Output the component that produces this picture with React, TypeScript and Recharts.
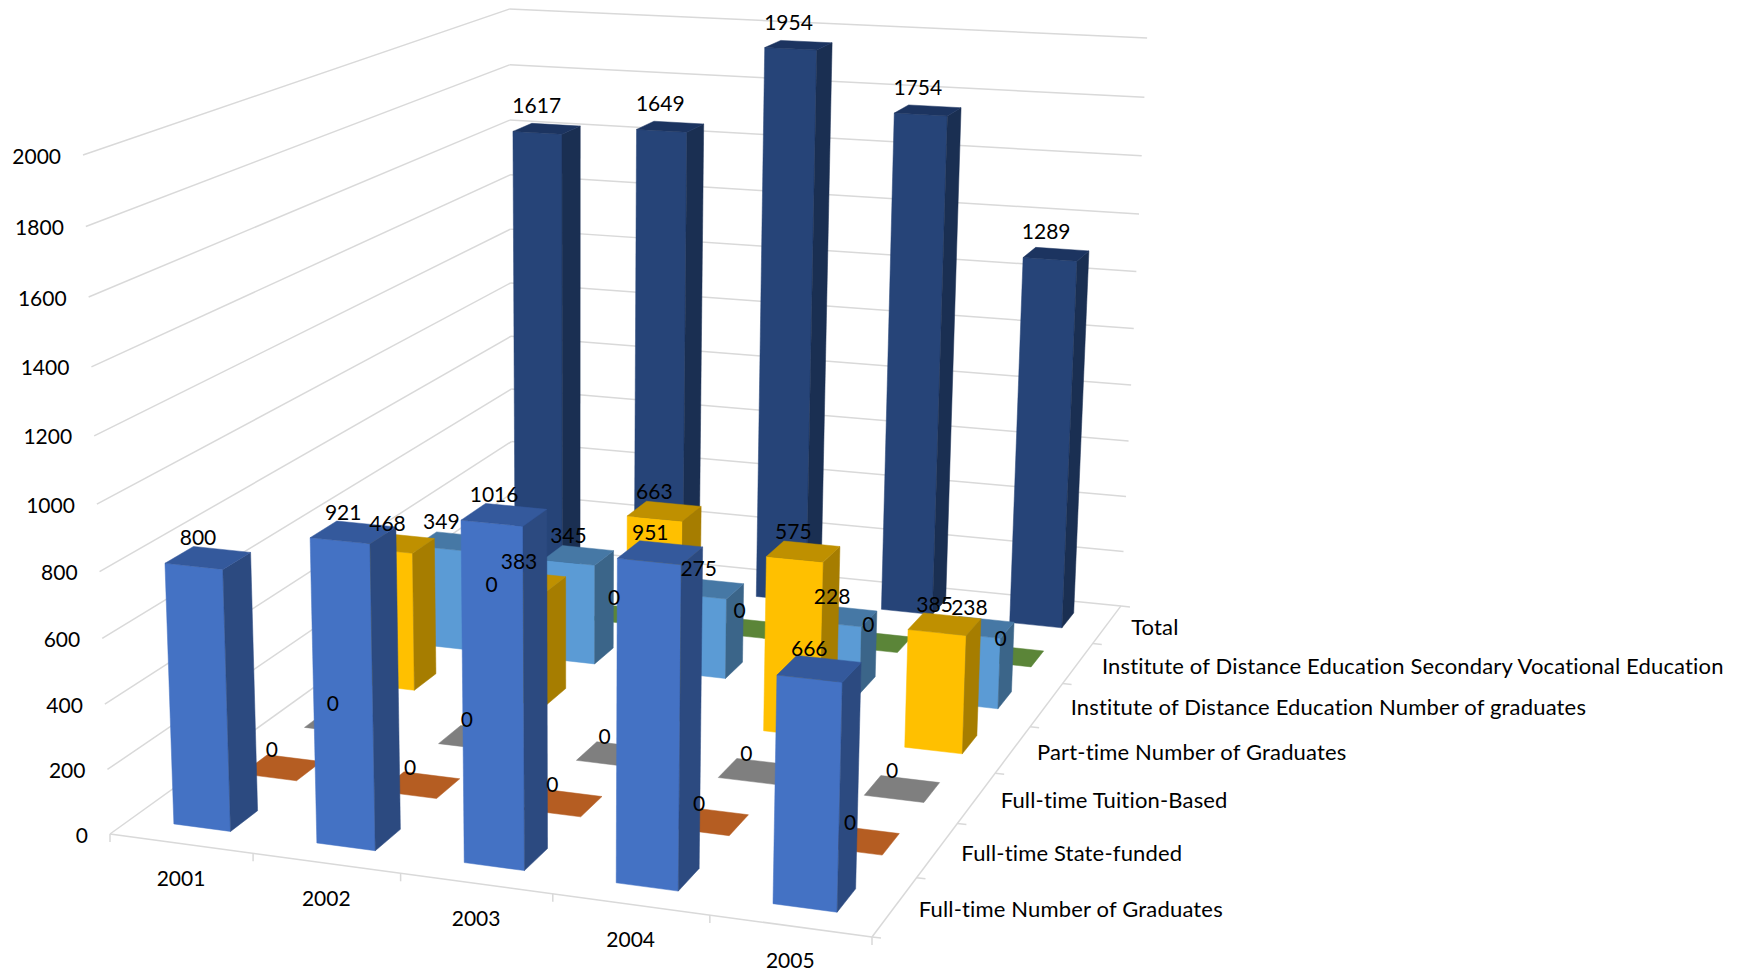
import React from 'react';
import { ScatterChart, Scatter, XAxis, YAxis, ReferenceLine } from 'recharts';

const years = ['2001', '2002', '2003', '2004', '2005'];
const seriesNames = [
    'Full-time Number of Graduates',
    'Full-time State-funded',
    'Full-time Tuition-Based',
    'Part-time Number of Graduates',
    'Institute of Distance Education Number of graduates',
    'Institute of Distance Education Secondary Vocational Education',
    'Total',
];
const fullTimeGraduates = [800, 921, 1016, 951, 666];
const fullTimeStateFunded = [0, 0, 0, 0, 0];
const fullTimeTuition = [0, 0, 0, 0, 0];
const partTimeGraduates = [468, 383, 663, 575, 385];
const distanceGraduates = [349, 345, 275, 228, 238];
const distanceVocational = [0, 0, 0, 0, 0];
const total = [1617, 1649, 1954, 1754, 1289];
const seriesValues = [
    fullTimeGraduates,
    fullTimeStateFunded,
    fullTimeTuition,
    partTimeGraduates,
    distanceGraduates,
    distanceVocational,
    total,
];
const valueTicks = [0, 200, 400, 600, 800, 1000, 1200, 1400, 1600, 1800, 2000];

// front, side, top
const palette = [
    ['#4472C4', '#2C4A80', '#34599C'],
    ['#B55D22', '#B55D22', '#B55D22'],
    ['#7F7F7F', '#7F7F7F', '#7F7F7F'],
    ['#FFC000', '#A67D00', '#BF9000'],
    ['#5B9BD5', '#3B6589', '#4678A5'],
    ['#5B8538', '#5B8538', '#5B8538'],
    ['#264478', '#1A2F52', '#1C3460'],
];

const WIDTH = 1738;
const HEIGHT = 977;
const MAX_VALUE = 2000;
const GRID = '#D9D9D9';
const FONT = 'Lato, "Open Sans", sans-serif';
const BAR_START = 0.3;
const BAR_END = 0.7;

// corners of the box on the page and their perspective weights
const O = [110, 834];
const A = [872, 937];
const B = [512, 545];
const C = [83, 155];
const wa = 0.9248;
const wb = 1.282;
const wc = 0.945;

// u = position along the years, v = position along the series, h = value
const project = (u: number, v: number, h: number): [number, number] => {
    const a = u / years.length;
    const b = v / seriesNames.length;
    const c = h / MAX_VALUE;
    const w = 1 + a * (wa - 1) + b * (wb - 1) + c * (wc - 1);
    const x = O[0] + a * (wa * A[0] - O[0]) + b * (wb * B[0] - O[0]) + c * (wc * C[0] - O[0]);
    const y = O[1] + a * (wa * A[1] - O[1]) + b * (wb * B[1] - O[1]) + c * (wc * C[1] - O[1]);
    return [x / w, y / w];
};

const toPoints = (corners: number[][]) =>
    corners.map(([u, v, h]) => project(u, v, h).join(',')).join(' ');

const Cuboid = (props: any) => {
    const { yearIndex, seriesIndex, value } = props.payload;
    const [front, side, top] = palette[seriesIndex];
    const u0 = yearIndex + BAR_START;
    const u1 = yearIndex + BAR_END;
    const v0 = seriesIndex + BAR_START;
    const v1 = seriesIndex + BAR_END;
    return (
        <g>
            {value > 0 && (
                <polygon
                    points={toPoints([[u0, v0, 0], [u1, v0, 0], [u1, v0, value], [u0, v0, value]])}
                    fill={front}
                    stroke={front}
                    strokeWidth={0.5}
                />
            )}
            {value > 0 && (
                <polygon
                    points={toPoints([[u1, v0, 0], [u1, v1, 0], [u1, v1, value], [u1, v0, value]])}
                    fill={side}
                    stroke={side}
                    strokeWidth={0.5}
                />
            )}
            <polygon
                points={toPoints([[u0, v0, value], [u1, v0, value], [u1, v1, value], [u0, v1, value]])}
                fill={top}
                stroke={top}
                strokeWidth={0.5}
            />
        </g>
    );
};

const TextMark = (props: any) => {
    const { cx, cy, payload } = props;
    return (
        <text
            x={cx}
            y={cy}
            textAnchor={payload.anchor}
            dominantBaseline="central"
            fontFamily={FONT}
            fontSize={21}
            fill="#000"
        >
            {payload.text}
        </text>
    );
};

// the series names run a little wider than the digits
const SeriesTextMark = (props: any) => {
    const { cx, cy, payload } = props;
    return (
        <text
            x={cx}
            y={cy}
            textAnchor="start"
            dominantBaseline="central"
            fontFamily={FONT}
            fontSize={22}
            letterSpacing={0.17}
            fill="#000"
        >
            {payload.text}
        </text>
    );
};

const toXY = ([sx, sy]: [number, number]) => ({ sx, sy });

const barData = (seriesIndex: number) =>
    seriesValues[seriesIndex].map((value, yearIndex) => ({
        ...toXY(project(yearIndex + 0.5, seriesIndex + 0.5, value)),
        yearIndex,
        seriesIndex,
        value,
    }));

const valueTickLabels = valueTicks.map((tick) => {
    const [x, y] = project(0, 0, tick);
    return { sx: x - 22, sy: y, text: String(tick), anchor: 'end' };
});

const yearLabels = years.map((year, i) => {
    const [x, y] = project(i + 0.5, 0, 0);
    return { sx: x, sy: y + 34, text: year, anchor: 'middle' };
});

const seriesLabels = seriesNames.map((name, i) => {
    const [x, y] = project(years.length, i + 0.5, 0);
    return { sx: x + 24, sy: y + 2, text: name };
});

const labelLift = (value: number, seriesIndex: number) => {
    if (value === 0) return 19;
    return seriesIndex === seriesNames.length - 1 ? 24 : 21;
};

const dataLabels = seriesValues.flatMap((values, seriesIndex) =>
    values.map((value, yearIndex) => {
        const [x, y] = project(yearIndex + 0.5, seriesIndex + 0.5, value);
        return { sx: x - 10, sy: y - labelLift(value, seriesIndex), text: String(value), anchor: 'middle' };
    })
);

const seg = (p: [number, number], q: [number, number]) => [
    { x: p[0], y: p[1] },
    { x: q[0], y: q[1] },
];

const gridSegments = [
    ...valueTicks.map((tick) => seg(project(0, 0, tick), project(0, seriesNames.length, tick))),
    ...valueTicks.map((tick) =>
        seg(project(0, seriesNames.length, tick), project(years.length, seriesNames.length, tick))
    ),
    seg(project(0, 0, 0), project(years.length, 0, 0)),
    seg(project(years.length, 0, 0), project(years.length, seriesNames.length, 0)),
    ...[0, 1, 2, 3, 4, 5].map((i) => {
        const p = project(i, 0, 0);
        return seg(p, [p[0], p[1] + 8]);
    }),
    ...[0, 1, 2, 3, 4, 5, 6, 7].map((i) => {
        const p = project(years.length, i, 0);
        return seg(p, [p[0] + 9, p[1] + 1]);
    }),
];

const App: React.FC = () => {
    const rowsBackToFront = seriesNames.map((_, i) => seriesNames.length - 1 - i);
    return (
        <div style={{ position: 'absolute', left: 0, top: 0 }}>
            <ScatterChart width={WIDTH} height={HEIGHT} margin={{ top: 0, right: 0, bottom: 0, left: 0 }}>
                <XAxis type="number" dataKey="sx" domain={[0, WIDTH]} hide />
                <YAxis type="number" dataKey="sy" domain={[0, HEIGHT]} reversed hide />
                {gridSegments.map((segment, i) => (
                    <ReferenceLine
                        key={i}
                        segment={segment}
                        stroke={GRID}
                        strokeWidth={1.5}
                        ifOverflow="visible"
                    />
                ))}
                {rowsBackToFront.map((seriesIndex) => (
                    <Scatter
                        key={seriesNames[seriesIndex]}
                        name={seriesNames[seriesIndex]}
                        data={barData(seriesIndex)}
                        shape={Cuboid}
                        isAnimationActive={false}
                    />
                ))}
                <Scatter data={valueTickLabels} shape={TextMark} isAnimationActive={false} />
                <Scatter data={yearLabels} shape={TextMark} isAnimationActive={false} />
                <Scatter data={seriesLabels} shape={SeriesTextMark} isAnimationActive={false} />
                <Scatter data={dataLabels} shape={TextMark} isAnimationActive={false} />
            </ScatterChart>
        </div>
    );
};

export default App;
